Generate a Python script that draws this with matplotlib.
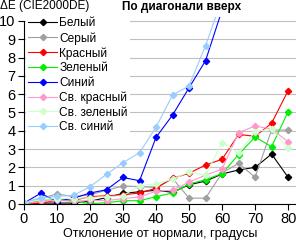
import numpy as np
import matplotlib
matplotlib.use('Agg')
import matplotlib.pyplot as plt

plt.rcParams['font.family'] = ['Liberation Sans', 'DejaVu Sans']

# angle from normal, degrees
angles = [0, 5, 10, 15, 20, 25, 30, 35, 40, 45, 50, 55, 60, 65, 70, 75, 80]

white = [0, 0.05, 0.05, 0.05, 0.15, 0.35, 0.58, 0.67, 0.75, 0.64, 1.05, 1.25, 1.64, 1.86, 2.0, 2.73, 1.46]
gray = [0, 0.3, 0.55, 0.4, 0.5, 0.75, 0.98, 0.95, 0.9, 1.4, 0.32, 0.32, 1.7, 2.22, 1.46, 4.04, 4.04]
red = [0, 0.05, 0.2, 0.2, 0.4, 0.45, 0.5, 0.6, 0.86, 1.4, 1.68, 2.13, 2.44, 3.8, 3.7, 4.41, 6.19]
green = [0, 0.2, 0.25, 0.15, 0.02, 0.07, 0.18, 0.18, 0.4, 0.6, 1.09, 1.33, 1.66, 2.7, 3.66, 3.13, 5.04]
blue = [0.05, 0.58, 0.15, 0.32, 0.6, 0.78, 1.45, 1.27, 3.64, 4.86, 6.35, 7.83, 10.6, 12.5, 14.5, 16.5, 18.5]
lt_red = [0, 0.15, 0.2, 0.15, 0.2, 0.18, 0.3, 0.38, 0.7, 0.75, 1.2, 1.58, 1.9, 3.9, 4.26, 4.1, 3.4]
lt_green = [0.05, 0.25, 0.3, 0.3, 0.35, 0.4, 0.45, 1.0, 1.1, 1.35, 1.75, 1.58, 3.35, 2.77, 3.95, 4.1, 3.04]
lt_blue = [0.08, 0.34, 0.42, 0.47, 0.95, 1.62, 2.26, 2.8, 4.2, 5.95, 6.45, 8.65, 11.2, 13, 15, 17, 19]

series = [
    ('Белый', white, '#000000'),
    ('Серый', gray, '#a0a0a0'),
    ('Красный', red, '#ff0000'),
    ('Зеленый', green, '#00ee00'),
    ('Синий', blue, '#0000ff'),
    ('Св. красный', lt_red, '#ff99cc'),
    ('Св. зеленый', lt_green, '#ccffcc'),
    ('Св. синий', lt_blue, '#99ccff'),
]

fig = plt.figure(figsize=(2.96, 2.44), dpi=100)
ax = fig.add_axes([24 / 296, 40 / 244, 272 / 296, 186.7 / 244])

for name, vals, col in series:
    ax.plot(angles, vals, color=col, lw=0.8, marker='D', ms=3.2,
            mec=col, mfc=col, label=name)

ax.set_xlim(0, 82.4)
ax.set_ylim(0, 10.2)
ax.set_xticks(range(0, 81, 10))
ax.set_yticks(range(0, 11))
ax.yaxis.grid(True, color='#c0c0c0', lw=0.8)
ax.set_axisbelow(True)
for s in ['top', 'right']:
    ax.spines[s].set_visible(False)
ax.spines['left'].set_bounds(0, 10)
ax.spines['left'].set_linewidth(0.8)
ax.spines['bottom'].set_linewidth(0.8)
ax.tick_params(direction='out', length=4, width=0.8, labelsize=10.5, pad=2)

ax.set_xlabel('Отклонение от нормали, градусы', fontsize=9, labelpad=1)

leg = ax.legend(loc='upper left', bbox_to_anchor=(26 / 296, 1 - 15 / 244),
                bbox_transform=fig.transFigure, frameon=True, fancybox=False,
                framealpha=1, edgecolor='none', facecolor='white',
                fontsize=8.6, handlelength=2.4, handletextpad=0.2,
                labelspacing=0.22, borderpad=0.2, borderaxespad=0)

fig.text(0, 1 - 6 / 244, 'ΔE (CIE2000DE)', fontsize=8.5, va='center', ha='left')
fig.text(182 / 296, 1 - 7 / 244, 'По диагонали вверх', fontsize=8.5,
         fontweight='bold', va='center', ha='center')

fig.savefig('out.png', dpi=100)
